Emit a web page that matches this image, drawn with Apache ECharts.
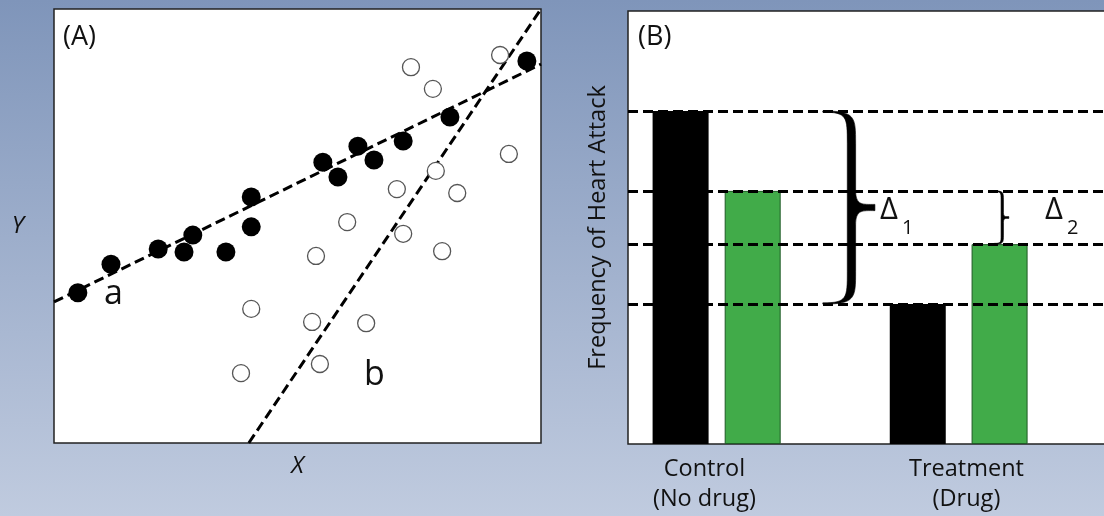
<!DOCTYPE html>
<html>
<head>
<meta charset="utf-8">
<script src="https://cdn.jsdelivr.net/npm/echarts@6/dist/echarts.min.js"></script>
<style>
html,body{margin:0;padding:0;width:1104px;height:516px;overflow:hidden;}
#c{width:1104px;height:516px;}
</style>
</head>
<body>
<div id="c"></div>
<script>
// ---------- Panel A data (X, Y) ----------
const filledPoints = [
  [0.49,3.46],[1.17,4.12],[2.14,4.47],[2.67,4.40],[2.85,4.79],[3.53,4.40],
  [4.05,4.98],[4.05,5.67],[5.52,6.47],[5.83,6.13],[6.24,6.84],[6.57,6.52],
  [7.17,6.96],[8.13,7.51],[9.71,8.80]
];
const openPoints = [
  [7.33,8.66],[9.16,8.94],[7.78,8.16],[9.34,6.66],[7.84,6.27],[7.04,5.85],
  [8.28,5.76],[6.02,5.09],[7.17,4.82],[7.97,4.42],[5.38,4.31],[4.05,3.09],
  [5.30,2.79],[6.41,2.76],[5.46,1.82],[3.84,1.61]
];
const lineA = [[0,3.25],[10,8.73]];
const lineB = [[4,0],[10,10]];

// ---------- Panel B data ----------
const groupNames = ['Control\n(No drug)', 'Treatment\n(Drug)'];
const groupLabelPos = [1.57, 6.95];
const blackBars = [[1.08,10],[5.95,4.2]];
const greenBars = [[2.56,7.6],[7.63,6]];
const refLevels = [10, 7.6, 6, 4.2];
// braces: [left x, top value, bottom value, width in x units]
const braces = [[4.0,10,4.2,1.07],[7.52,7.6,6,0.3]];

const FONT = '"Open Sans", "Noto Sans", sans-serif';

function bracePath(a, w, yT, yB) {
  const h = yB - yT, ym = (yT + yB) / 2;
  const s = a + w * 0.55;
  const t = Math.max(1.2, w * 0.08);
  const e = Math.max(0.8, t * 0.3);
  const r1 = h * 0.17, q1 = h * 0.03;
  const r2 = h * 0.09, q2 = h * 0.01;
  const tip = a + w, t2 = Math.max(0.8, t * 0.75);
  const k = s + t + (tip - s - t) * 0.35;
  return [
    'M', a, yT,
    'C', s + t, yT, s + t, yT + q1, s + t, yT + r1,
    'L', s + t, ym - r2,
    'C', s + t, ym - q2, k, ym - t2, tip, ym - t2,
    'L', tip, ym + t2,
    'C', k, ym + t2, s + t, ym + q2, s + t, ym + r2,
    'L', s + t, yB - r1,
    'C', s + t, yB - q1, s + t, yB, a, yB,
    'L', a, yB - e,
    'C', s - t, yB - e, s - t, yB - q1, s - t, yB - r1,
    'L', s - t, yT + r1,
    'C', s - t, yT + q1, s - t, yT + e, a, yT + e,
    'Z'
  ].join(' ');
}

const chart = echarts.init(document.getElementById('c'));
const hiddenAxisBits = {
  axisLine: {show: false}, axisTick: {show: false},
  axisLabel: {show: false}, splitLine: {show: false}
};
const dashStyle = {color: '#000', width: 3, type: [10, 5]};

chart.setOption({
  backgroundColor: {
    type: 'linear', x: 0, y: 0, x2: 0, y2: 1,
    colorStops: [{offset: 0, color: '#7f95ba'}, {offset: 1, color: '#c0cbdf'}]
  },
  animation: false,
  textStyle: {fontFamily: FONT},
  grid: [
    {left: 54, top: 9, width: 487, height: 434, show: true, outerBoundsMode: 'none', containLabel: false,
     backgroundColor: '#fff', borderColor: '#222', borderWidth: 1.5},
    {left: 628, top: 11, width: 487, height: 433, show: true, outerBoundsMode: 'none', containLabel: false,
     backgroundColor: '#fff', borderColor: '#222', borderWidth: 1.5}
  ],
  xAxis: [
    Object.assign({type: 'value', gridIndex: 0, min: 0, max: 10,
      name: 'X', nameLocation: 'middle', nameGap: 11,
      nameTextStyle: {fontSize: 24, fontStyle: 'italic', color: '#111', fontFamily: FONT}
    }, hiddenAxisBits),
    {type: 'value', gridIndex: 1, min: 0, max: 10,
     axisLine: {show: false}, axisTick: {show: false}, splitLine: {show: false},
     axisLabel: {
       show: true, customValues: groupLabelPos, margin: 10,
       fontSize: 23.5, lineHeight: 30, color: '#111', fontFamily: FONT,
       formatter: function (v) {
         let best = 0;
         groupLabelPos.forEach(function (p, i) { if (Math.abs(p - v) < Math.abs(groupLabelPos[best] - v)) best = i; });
         return groupNames[best];
       }
     }
    }
  ],
  yAxis: [
    Object.assign({type: 'value', gridIndex: 0, min: 0, max: 10,
      name: 'Y', nameLocation: 'middle', nameGap: 30, nameRotate: 0,
      nameTextStyle: {fontSize: 24, fontStyle: 'italic', color: '#111', fontFamily: FONT, padding: [0, 0, 14, 0]}
    }, hiddenAxisBits),
    Object.assign({type: 'value', gridIndex: 1, min: 0, max: 13,
      name: 'Frequency of Heart Attack', nameLocation: 'middle', nameGap: 18,
      nameTextStyle: {fontSize: 23.5, color: '#111', fontFamily: FONT}
    }, hiddenAxisBits)
  ],
  series: [
    {type: 'line', xAxisIndex: 0, yAxisIndex: 0, data: lineA, symbol: 'none',
     lineStyle: dashStyle, z: 1, silent: true},
    {type: 'line', xAxisIndex: 0, yAxisIndex: 0, data: lineB, symbol: 'none',
     lineStyle: dashStyle, z: 1, silent: true},
    {type: 'scatter', xAxisIndex: 0, yAxisIndex: 0, data: filledPoints,
     symbolSize: 19, itemStyle: {color: '#000', opacity: 1}, z: 3},
    {type: 'scatter', xAxisIndex: 0, yAxisIndex: 0, data: openPoints,
     symbolSize: 17, itemStyle: {color: '#fff', borderColor: '#555', borderWidth: 1.3, opacity: 1}, z: 3},
    {type: 'line', xAxisIndex: 1, yAxisIndex: 1, data: [], z: 1, silent: true,
     markLine: {
       silent: true, symbol: 'none', label: {show: false},
       lineStyle: {color: '#000', width: 3, type: [10, 5]},
       data: refLevels.map(function (v) { return {yAxis: v}; })
     }
    },
    {type: 'bar', xAxisIndex: 1, yAxisIndex: 1, data: blackBars, barWidth: 56,
     barGap: '-100%', itemStyle: {color: '#000'}, z: 3},
    {type: 'bar', xAxisIndex: 1, yAxisIndex: 1, data: greenBars, barWidth: 56,
     barGap: '-100%', itemStyle: {color: '#41ab49', borderColor: '#1f5a25', borderWidth: 1}, z: 3},
    {type: 'custom', xAxisIndex: 1, yAxisIndex: 1, data: braces, z: 4, silent: true,
     renderItem: function (params, api) {
       const pT = api.coord([api.value(0), api.value(1)]);
       const pB = api.coord([api.value(0), api.value(2)]);
       const w = api.size([api.value(3), 0])[0];
       return {type: 'path', shape: {pathData: bracePath(pT[0], w, pT[1], pB[1])},
               style: {fill: '#000', stroke: '#000', lineWidth: 0.6}};
     }
    }
  ],
  graphic: [
    {type: 'text', left: 63, top: 24, style: {text: '(A)', fontSize: 27, fill: '#111', fontFamily: FONT}},
    {type: 'text', left: 638, top: 24, style: {text: '(B)', fontSize: 27, fill: '#111', fontFamily: FONT}},
    {type: 'text', left: 104, top: 277, style: {text: 'a', fontSize: 34, fill: '#111', fontFamily: FONT}},
    {type: 'text', left: 364, top: 358, style: {text: 'b', fontSize: 34, fill: '#111', fontFamily: FONT}},
    {type: 'text', left: 880, top: 195, style: {text: 'Δ', fontSize: 31, fill: '#111', fontFamily: FONT}},
    {type: 'text', left: 902, top: 218, style: {text: '1', fontSize: 20, fill: '#111', fontFamily: FONT}},
    {type: 'text', left: 1045, top: 195, style: {text: 'Δ', fontSize: 31, fill: '#111', fontFamily: FONT}},
    {type: 'text', left: 1067, top: 218, style: {text: '2', fontSize: 20, fill: '#111', fontFamily: FONT}}
  ]
});
</script>
</body>
</html>
